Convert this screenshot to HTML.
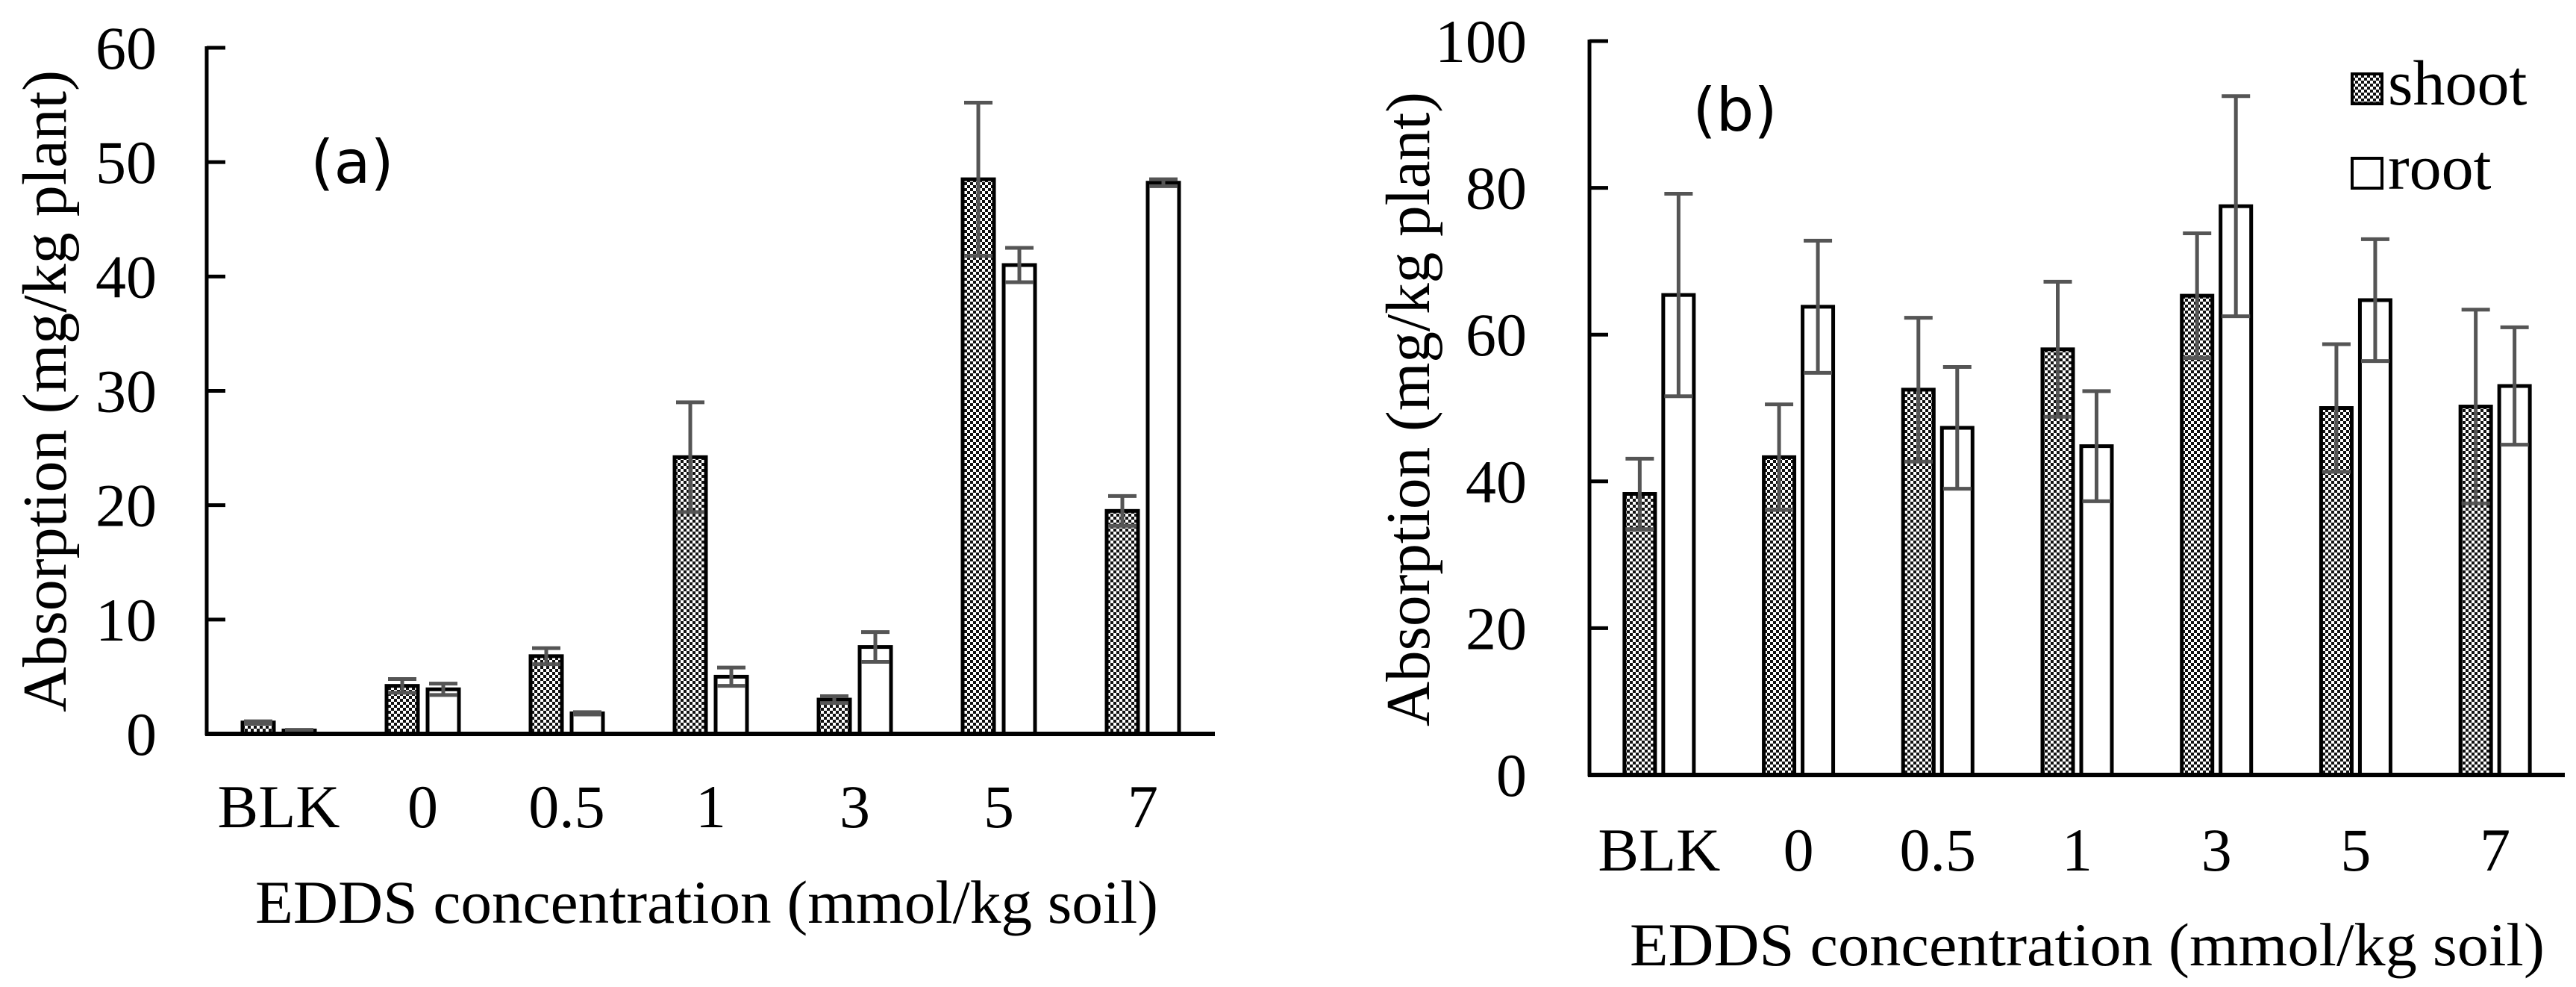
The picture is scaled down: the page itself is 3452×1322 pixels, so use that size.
<!DOCTYPE html>
<html><head><meta charset="utf-8"><style>
html,body{margin:0;padding:0;background:#fff;}
svg{display:block;}
text{font-family:"Liberation Serif",serif;fill:#000;}
.sans{font-family:"DejaVu Sans","Liberation Sans",sans-serif;}
</style></head><body>
<svg id="fig" width="3452" height="1322" viewBox="0 0 3452 1322" xmlns="http://www.w3.org/2000/svg">
<defs>
<pattern id="chk" width="8" height="8" patternUnits="userSpaceOnUse">
<rect width="8" height="8" fill="#fff"/>
<rect x="0" y="0" width="4" height="4" fill="#111"/>
<rect x="4" y="4" width="4" height="4" fill="#111"/>
</pattern>
</defs>
<g id="chartA"></g>
<g id="chartB"></g>
<g>
<rect x="3152" y="99" width="40" height="40" fill="url(#chk)" stroke="#000" stroke-width="4"/>
<text x="3200" y="140" font-size="86">shoot</text>
<rect x="3152" y="212" width="40" height="40" fill="#fff" stroke="#000" stroke-width="4"/>
<text x="3200" y="253" font-size="86">root</text>
</g>
</svg>
<script>
const categories = ["BLK","0","0.5","1","3","5","7"];
const shootA = [1.0, 4.2, 6.8, 24.2, 3.0, 48.5, 19.5];
const shootErrA = [0.1, 0.6, 0.7, 4.8, 0.3, 6.7, 1.3];
const rootA = [0.3, 3.9, 1.8, 5.0, 7.6, 41.0, 48.2];
const rootErrA = [0.05, 0.5, 0.1, 0.8, 1.3, 1.5, 0.3];
const ticksA = [0, 10, 20, 30, 40, 50, 60];
const shootB = [38.3, 43.3, 52.5, 58.0, 65.3, 50.0, 50.2];
const shootErrB = [4.8, 7.2, 9.8, 9.2, 8.5, 8.7, 13.2];
const rootB = [65.4, 63.8, 47.3, 44.8, 77.5, 64.7, 53.0];
const rootErrB = [13.8, 9.0, 8.3, 7.5, 15.0, 8.3, 8.0];
const ticksB = [0, 20, 40, 60, 80, 100];

const NS = "http://www.w3.org/2000/svg";
function mk(parent, tag, attrs, txt){
  const e = document.createElementNS(NS, tag);
  for (const k in attrs) e.setAttribute(k, attrs[k]);
  if (txt !== undefined) e.textContent = txt;
  parent.appendChild(e);
  return e;
}

function drawChart(g, cfg){
  const {x0, x1, y0, yTop, max, ticks, shoot, shootErr, root, rootErr, barW, gap, tickLabelRight, xLabelY, font} = cfg;
  const yS = v => y0 - (v / max) * (y0 - yTop);
  const cw = (x1 - x0) / categories.length;
  const xC = i => x0 + cw * (i + 0.5);
  categories.forEach((c, i) => {
    const cx = xC(i);
    const sx = cx - gap/2 - barW;
    const rx = cx + gap/2;
    const sb = mk(g, "rect", {x: sx, y: yS(shoot[i]), width: barW, height: Math.max(0, y0 - yS(shoot[i])), fill: "url(#chk)", stroke: "#000", "stroke-width": 5});
    
    
    const rb = mk(g, "rect", {x: rx, y: yS(root[i]), width: barW, height: Math.max(0, y0 - yS(root[i])), fill: "#fff", stroke: "#000", "stroke-width": 5});
    
    
    [[sx + barW/2, shoot[i], shootErr[i], 'shoot'], [rx + barW/2, root[i], rootErr[i], 'root']].forEach(([ex, v, e, s]) => {
      const eg = mk(g, "g", {stroke: "#555", "stroke-width": 5, fill: "none"});
      
      
      const lo = Math.max(0, v - e);
      mk(eg, "line", {x1: ex, x2: ex, y1: yS(lo), y2: yS(v + e)});
      mk(eg, "line", {x1: ex - 19, x2: ex + 19, y1: yS(v + e), y2: yS(v + e)});
      mk(eg, "line", {x1: ex - 19, x2: ex + 19, y1: yS(lo), y2: yS(lo)});
    });
    const tl = mk(g, "text", {x: cx, y: xLabelY, "font-size": font, "text-anchor": "middle"}, c);
    
    
  });
  const ya = mk(g, "line", {x1: x0, x2: x0, y1: yTop - 2, y2: y0 + 2, stroke: "#000", "stroke-width": 5});
  
  
  const xa = mk(g, "line", {x1: x0 - 2, x2: x1, y1: y0, y2: y0, stroke: "#000", "stroke-width": 6});
  
  
  ticks.forEach(t => {
    const y = yS(t);
    const tk = mk(g, "line", {x1: x0, x2: x0 + 25, y1: y, y2: y, stroke: "#000", "stroke-width": 5});
    
    
    const lb = mk(g, "text", {x: tickLabelRight, y: y + 28, "font-size": font, "text-anchor": "end"}, String(t));
    
    
  });
}

const gA = document.getElementById("chartA");
drawChart(gA, {x0: 277, x1: 1628, y0: 983, yTop: 64, max: 60, ticks: ticksA, shoot: shootA, shootErr: shootErrA, root: rootA, rootErr: rootErrA, barW: 42, gap: 13, tickLabelRight: 210, xLabelY: 1108, font: 82});
const gB = document.getElementById("chartB");
drawChart(gB, {x0: 2130, x1: 3437, y0: 1038, yTop: 55, max: 100, ticks: ticksB, shoot: shootB, shootErr: shootErrB, root: rootB, rootErr: rootErrB, barW: 41, gap: 11, tickLabelRight: 2046, xLabelY: 1166, font: 82});

let t;
t = mk(gA, "text", {x: 947, y: 1236, "font-size": 82, "text-anchor": "middle", textLength: 1210, lengthAdjust: "spacingAndGlyphs"}, "EDDS concentration (mmol/kg soil)");


t = mk(gA, "text", {x: 0, y: 0, "font-size": 84, "text-anchor": "middle", textLength: 860, lengthAdjust: "spacingAndGlyphs", transform: "translate(88,524) rotate(-90)"}, "Absorption (mg/kg plant)");


t = mk(gA, "text", {x: 472, y: 245, "font-size": 80, "text-anchor": "middle", class: "sans"}, "(a)");



t = mk(gB, "text", {x: 2797, y: 1293, "font-size": 82, "text-anchor": "middle", textLength: 1226, lengthAdjust: "spacingAndGlyphs"}, "EDDS concentration (mmol/kg soil)");


t = mk(gB, "text", {x: 0, y: 0, "font-size": 84, "text-anchor": "middle", textLength: 850, lengthAdjust: "spacingAndGlyphs", transform: "translate(1915,548) rotate(-90)"}, "Absorption (mg/kg plant)");


t = mk(gB, "text", {x: 2325, y: 175, "font-size": 80, "text-anchor": "middle", class: "sans"}, "(b)");


</script>
</body></html>
